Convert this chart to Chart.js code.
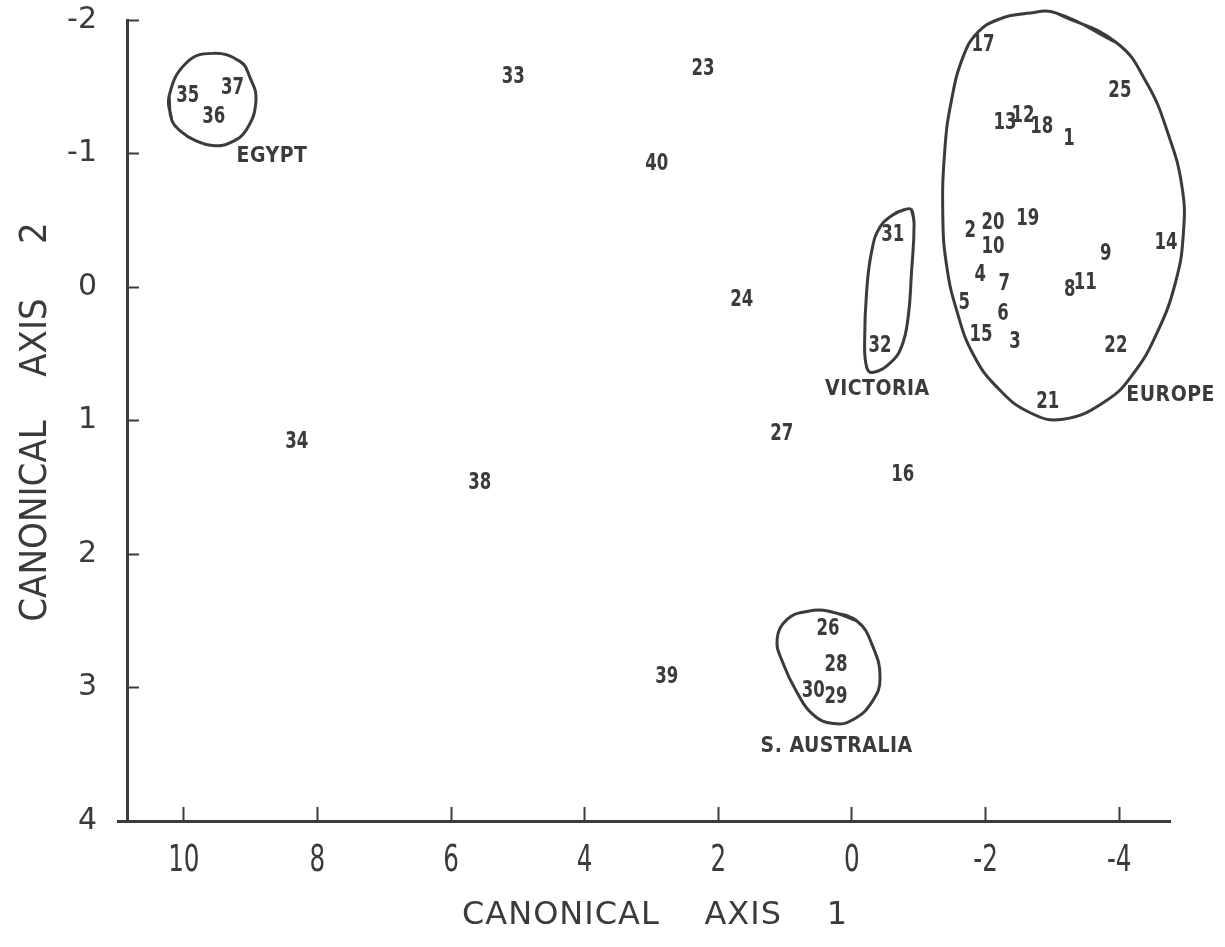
<!DOCTYPE html>
<html>
<head>
<meta charset="utf-8">
<script src="https://cdn.jsdelivr.net/npm/chart.js@4.4.1/dist/chart.umd.min.js"></script>
<style>
  html, body { margin: 0; padding: 0; background: #fff; }
  #wrap { width: 1225px; height: 947px; }
</style>
</head>
<body>
<div id="wrap"><canvas id="chart"></canvas></div>
<script>
// population numbers and their scores on the two canonical axes
const popIds = ["1", "2", "3", "4", "5", "6", "7", "8", "9", "10",
  "11", "12", "13", "14", "15", "16", "17", "18", "19", "20",
  "21", "22", "23", "24", "25", "26", "27", "28", "29", "30",
  "31", "32", "33", "34", "35", "36", "37", "38", "39", "40"];
const axis1 = [-3.25, -1.77, -2.44, -1.92, -1.68, -2.26, -2.28, -3.26, -3.80, -2.11,
  -3.49, -2.56, -2.29, -4.70, -1.93, -0.76, -1.96, -2.84, -2.63, -2.11,
  -2.93, -3.95, 2.23, 1.65, -4.01, 0.36, 1.05, 0.24, 0.24, 0.58,
  -0.61, -0.42, 5.07, 8.31, 9.94, 9.55, 9.27, 5.57, 2.77, 2.92];
const axis2 = [-1.11, -0.42, 0.41, -0.09, 0.12, 0.20, -0.02, 0.02, -0.25, -0.30,
  -0.03, -1.28, -1.23, -0.33, 0.36, 1.41, -1.81, -1.20, -0.51, -0.48,
  0.86, 0.44, -1.63, 0.10, -1.47, 2.56, 1.10, 2.83, 3.07, 3.03,
  -0.39, 0.44, -1.57, 1.16, -1.43, -1.27, -1.49, 1.47, 2.92, -0.92];

// region names
const groupNames = ["EGYPT", "VICTORIA", "EUROPE", "S. AUSTRALIA"];
const groupX = [8.68, -0.38, -4.77, 0.23];
const groupY = [-0.98, 0.77, 0.81, 3.44];

// hand drawn outlines round the groups (axis1, axis2 pairs)
const egyptLine = [[10.22, -1.43], [10.18, -1.25], [10.03, -1.16], [9.84, -1.10], [9.57, -1.06],
  [9.31, -1.08], [9.06, -1.18], [8.92, -1.40], [9.01, -1.57], [9.16, -1.69],
  [9.57, -1.75], [9.96, -1.68]];
const victoriaLine = [[-0.89, -0.58], [-0.93, -0.48], [-0.89, -0.10], [-0.84, 0.23], [-0.74, 0.45],
  [-0.57, 0.57], [-0.31, 0.64], [-0.22, 0.60], [-0.19, 0.40], [-0.22, 0.03],
  [-0.30, -0.28], [-0.42, -0.45], [-0.61, -0.54], [-0.79, -0.58]];
const europeLine = [[-3.07, -2.05], [-3.96, -1.83], [-4.41, -1.53], [-4.73, -1.15], [-4.94, -0.75],
  [-4.96, -0.40], [-4.84, -0.03], [-4.56, 0.35], [-4.21, 0.65], [-3.81, 0.85],
  [-3.16, 0.99], [-2.66, 0.94], [-2.17, 0.75], [-1.81, 0.50], [-1.57, 0.18],
  [-1.42, -0.15], [-1.36, -0.52], [-1.39, -1.03], [-1.49, -1.40], [-1.66, -1.72],
  [-1.87, -1.90], [-2.17, -2.00], [-2.62, -2.05]];
const sAustraliaLine = [[0.33, 2.43], [-0.07, 2.50], [-0.31, 2.69], [-0.42, 2.93], [-0.31, 3.10],
  [-0.02, 3.24], [0.28, 3.27], [0.59, 3.20], [0.83, 3.03], [1.03, 2.82],
  [1.12, 2.64], [0.97, 2.49], [0.67, 2.43]];

// tick labels
const xTicks = [10, 8, 6, 4, 2, 0, -2, -4];
const yTicks = [-2, -1, 0, 1, 2, 3, 4];

const INK = "#3b3b3b";
const COND = '"DejaVu Sans Condensed", "DejaVu Sans", sans-serif';
const WIDE = '"DejaVu Sans", sans-serif';

function closedPath(pts) {
    // run past the start so the join is smooth
    var all = pts.concat([pts[0], pts[1]]);
    return all.map(function (p) { return {x: p[0], y: p[1]}; });
}

function outline(pts) {
    return {
        data: closedPath(pts),
        showLine: true,
        borderColor: INK,
        borderWidth: 3,
        tension: 0.45,
        pointRadius: 0,
        clip: false
    };
}

function tickText(v) {
    return v < 0 ? "-" + Math.abs(v) : String(v);
}

// narrow lettering: squeeze the text sideways
function squeezed(ctx, text, x, y, sx) {
    ctx.save();
    ctx.translate(x, y);
    ctx.scale(sx, 1);
    ctx.fillText(text, 0, 0);
    ctx.restore();
}

var pointData = popIds.map(function (id, i) { return {x: axis1[i], y: axis2[i]}; });
var groupData = groupNames.map(function (n, i) { return {x: groupX[i], y: groupY[i]}; });

const textMarks = {
    id: "textMarks",
    afterDatasetsDraw(chart) {
        var ctx = chart.ctx;
        chart.data.datasets.forEach(function (ds, i) {
            if (!ds.texts) return;
            var meta = chart.getDatasetMeta(i);
            ctx.save();
            ctx.fillStyle = INK;
            ctx.font = ds.textFont;
            ctx.letterSpacing = ds.spacing || "0px";
            ctx.textAlign = "center";
            ctx.textBaseline = "middle";
            meta.data.forEach(function (el, j) {
                squeezed(ctx, ds.texts[j], el.x, el.y, ds.squeeze || 1);
            });
            ctx.restore();
        });
    }
};

const axisText = {
    id: "axisText",
    afterDraw(chart) {
        var ctx = chart.ctx;
        var area = chart.chartArea;
        var xs = chart.scales.x;
        ctx.save();
        // the base line runs a little past the vertical axis
        ctx.strokeStyle = INK;
        ctx.lineWidth = 3;
        ctx.beginPath();
        ctx.moveTo(area.left - 10, xs.top + 0.5);
        ctx.lineTo(area.left, xs.top + 0.5);
        ctx.stroke();
        ctx.fillStyle = INK;
        ctx.textAlign = "center";
        ctx.textBaseline = "middle";
        // x tick labels in tall narrow figures
        ctx.font = "37px " + COND;
        xTicks.forEach(function (v) {
            squeezed(ctx, tickText(v), xs.getPixelForValue(v), xs.top + 40, 0.74);
        });
        ctx.font = "32px " + WIDE;
        ctx.letterSpacing = "1px";
        ctx.fillText("CANONICAL    AXIS    1", area.left + 528, area.bottom + 95);
        ctx.translate(36, area.top + 402);
        ctx.rotate(-Math.PI / 2);
        ctx.font = "38px " + COND;
        ctx.letterSpacing = "0px";
        ctx.fillText("CANONICAL    AXIS     2", 0, 0);
        ctx.restore();
    }
};

new Chart(document.getElementById("chart"), {
    type: "scatter",
    data: {
        datasets: [
            {data: pointData, texts: popIds, textFont: "bold 23px " + COND, squeeze: 0.8, pointRadius: 0},
            {data: groupData, texts: groupNames, textFont: "bold 21px " + COND, spacing: "0.5px", pointRadius: 0},
            outline(egyptLine),
            outline(victoriaLine),
            outline(europeLine),
            outline(sAustraliaLine)
        ]
    },
    options: {
        responsive: true,
        maintainAspectRatio: false,
        animation: false,
        layout: {padding: {top: 20, right: 55, left: 0, bottom: 0}},
        elements: {line: {capBezierPoints: false}},
        plugins: {legend: {display: false}, tooltip: {enabled: false}},
        scales: {
            x: {
                type: "linear",
                reverse: true,
                min: -4.76,
                max: 10.85,
                afterBuildTicks: function (s) { s.ticks = xTicks.map(function (v) { return {value: v}; }); },
                afterFit: function (s) { s.height = 126; s.paddingLeft = 0; s.paddingRight = 0; },
                border: {display: true, color: INK, width: 3},
                grid: {drawOnChartArea: false, drawTicks: true, tickLength: -14, tickColor: INK, tickWidth: 2},
                ticks: {display: false}
            },
            y: {
                type: "linear",
                reverse: true,
                min: -2,
                max: 4,
                afterBuildTicks: function (s) { s.ticks = yTicks.map(function (v) { return {value: v}; }); },
                afterFit: function (s) { s.width = 127; s.paddingTop = 0; s.paddingBottom = 0; },
                border: {display: true, color: INK, width: 3},
                grid: {drawOnChartArea: false, drawTicks: true, tickLength: -12, tickColor: INK, tickWidth: 2},
                ticks: {
                    color: INK,
                    padding: 42,
                    font: {family: WIDE, size: 30},
                    callback: tickText
                }
            }
        }
    },
    plugins: [textMarks, axisText]
});
</script>
</body>
</html>
